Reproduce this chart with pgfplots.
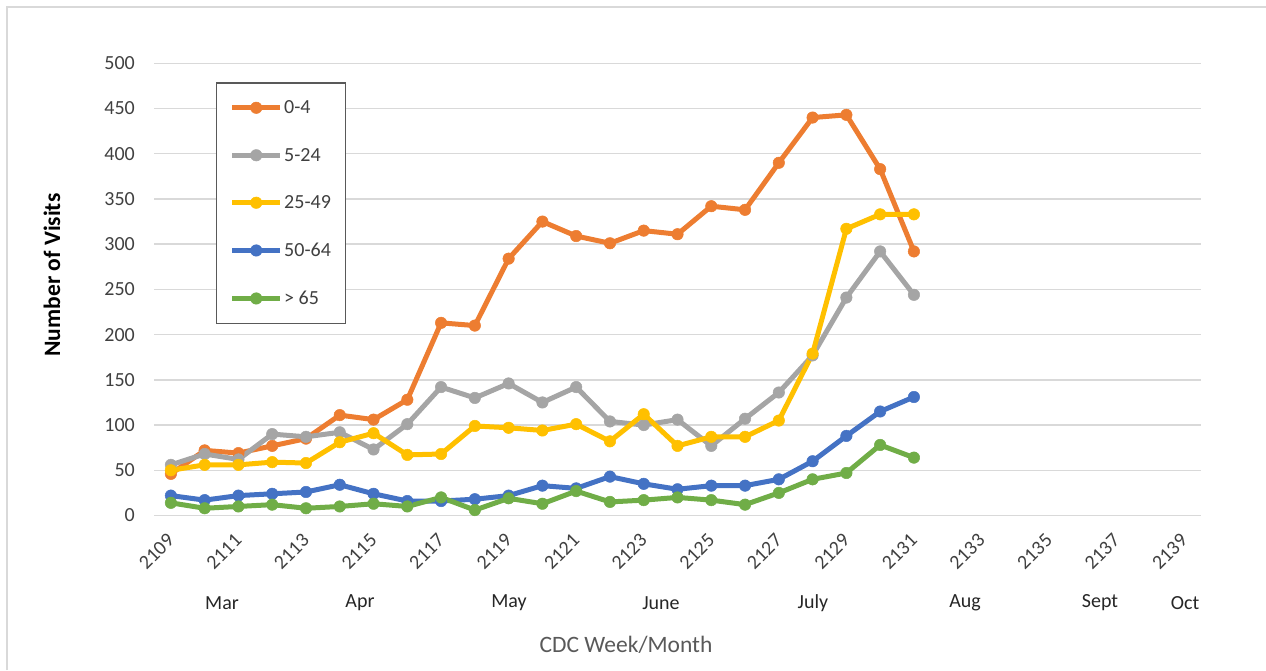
\documentclass[border=0pt]{standalone}
\usepackage{pgfplots}
\pgfplotsset{compat=1.18}
\usepackage{fontspec}
\setmainfont{Carlito}
\definecolor{cOrange}{HTML}{ED7D31}
\definecolor{cGray}{HTML}{A5A5A5}
\definecolor{cYellow}{HTML}{FFC000}
\definecolor{cBlue}{HTML}{4472C4}
\definecolor{cGreen}{HTML}{70AD47}
\definecolor{gridgray}{HTML}{D9D9D9}
\definecolor{txtgray}{HTML}{595959}
\definecolor{txtdark}{HTML}{404040}
\begin{document}
\begin{tikzpicture}
\useasboundingbox (0,0) rectangle (1266pt,670pt);
\draw[gridgray, line width=1.5pt] (7pt,0pt) -- (7pt,663pt) -- (1266pt,663pt);
\begin{axis}[
  at={(154pt,154.5pt)}, anchor=south west,
  scale only axis, width=1047pt, height=452.2pt,
  xmin=2108.5, xmax=2139.5, ymin=0, ymax=500,
  xtick={2109,2111,...,2139}, ytick={0,50,...,500},
  ymajorgrids, grid style={draw=gridgray, line width=1.5pt},
  axis line style={draw=none},
  major tick length=0pt,
  clip=false,
  /pgf/number format/assume math mode=true,
  /pgf/number format/1000 sep={},
  xticklabel style={font=\fontsize{20}{24}\selectfont, text=txtdark, yshift=-21.5pt, rotate=45, anchor=east, inner sep=0pt},
  yticklabel style={font=\fontsize{20}{24}\selectfont, text=txtdark, anchor=east, inner sep=0pt, xshift=-19pt},
  every axis plot/.append style={line width=5pt, mark=*, mark size=5.75pt, mark options={solid, line width=0.5pt}},
  legend cell align=left,
  legend image code/.code={\draw[mark repeat=2, mark phase=2, #1] plot coordinates {(0pt,0pt) (24pt,0pt) (48pt,0pt)};},
  legend style={at={(rel axis cs:0.0592,0.958)}, anchor=north west, draw=txtgray, line width=1.5pt,
    font=\fontsize{20}{24}\selectfont, text=txtdark, row sep=30pt, inner xsep=13pt, inner ysep=16pt,
    nodes={inner sep=1.5pt}},
]
\addplot[color=cOrange] coordinates {
(2109,46) (2110,72) (2111,69) (2112,77) (2113,85) (2114,111) (2115,106) (2116,128)
(2117,213) (2118,210) (2119,284) (2120,325) (2121,309) (2122,301) (2123,315) (2124,311)
(2125,342) (2126,338) (2127,390) (2128,440) (2129,443) (2130,383) (2131,292)};
\addlegendentry{0-4}
\addplot[color=cGray] coordinates {
(2109,56) (2110,68) (2111,62) (2112,90) (2113,87) (2114,92) (2115,73) (2116,101)
(2117,142) (2118,130) (2119,146) (2120,125) (2121,142) (2122,104) (2123,100) (2124,106)
(2125,77) (2126,107) (2127,136) (2128,177) (2129,241) (2130,292) (2131,244)};
\addlegendentry{5-24}
\addplot[color=cYellow] coordinates {
(2109,50) (2110,56) (2111,56) (2112,59) (2113,58) (2114,81) (2115,91) (2116,67)
(2117,68) (2118,99) (2119,97) (2120,94) (2121,101) (2122,82) (2123,112) (2124,77)
(2125,87) (2126,87) (2127,105) (2128,179) (2129,317) (2130,333) (2131,333)};
\addlegendentry{25-49}
\addplot[color=cBlue] coordinates {
(2109,22) (2110,17) (2111,22) (2112,24) (2113,26) (2114,34) (2115,24) (2116,16)
(2117,16) (2118,18) (2119,22) (2120,33) (2121,30) (2122,43) (2123,35) (2124,29)
(2125,33) (2126,33) (2127,40) (2128,60) (2129,88) (2130,115) (2131,131)};
\addlegendentry{50-64}
\addplot[color=cGreen] coordinates {
(2109,14) (2110,8) (2111,10) (2112,12) (2113,8) (2114,10) (2115,13) (2116,10)
(2117,20) (2118,6) (2119,19) (2120,13) (2121,27) (2122,15) (2123,17) (2124,20)
(2125,17) (2126,12) (2127,25) (2128,40) (2129,47) (2130,78) (2131,64)};
\addlegendentry{> 65}
\end{axis}
\begin{scope}[every node/.style={font=\fontsize{20}{24}\selectfont, text=black!85, anchor=center, inner sep=0pt}]
\node at (222pt,67pt) {Mar};
\node at (360pt,67pt) {Apr};
\node at (509pt,67pt) {May};
\node at (661pt,67pt) {June};
\node at (813pt,67pt) {July};
\node at (965pt,67pt) {Aug};
\node at (1100pt,67pt) {Sept};
\node at (1185pt,67pt) {Oct};
\end{scope}
\node[font=\fontsize{23.5}{28}\selectfont, text=txtgray, inner sep=0pt] at (626pt,25pt) {CDC Week/Month};
\node[font=\fontsize{23.5}{28}\selectfont\bfseries, text=black, rotate=90, inner sep=0pt] at (52pt,395pt) {Number of Visits};
\end{tikzpicture}
\end{document}
